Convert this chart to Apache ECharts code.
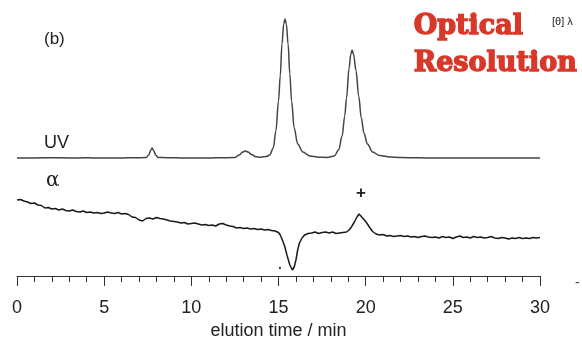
<!DOCTYPE html>
<html>
<head>
<meta charset="utf-8">
<script src="https://cdn.jsdelivr.net/npm/echarts@6/dist/echarts.min.js"></script>
<style>
  html, body { margin: 0; padding: 0; background: #fff; }
  #chart { width: 582px; height: 340px; }
</style>
</head>
<body>
<div id="chart"></div>
<script>
// x axis ticks (elution time, min)
const xTicks = [0, 5, 10, 15, 20, 25, 30];

// UV trace: [time (min), detector signal (arb. units)]
const uvTrace = [
  [0, 118], [1, 118], [2, 118.3], [3, 118], [4, 118.2], [5, 118], [6, 118.1],
  [6.8, 118.2], [7.4, 118.4], [7.55, 121], [7.68, 126], [7.75, 128], [7.85, 125],
  [7.95, 121], [8.1, 118.6], [8.6, 118.3], [9.5, 118], [10.5, 118], [11.5, 118.2],
  [12.5, 118.5], [12.75, 121], [12.95, 124], [13.1, 125], [13.25, 124],
  [13.45, 121.5], [13.7, 119.3], [14.0, 118.8], [14.3, 119.5], [14.5, 121],
  [14.7, 128], [14.85, 145], [15.0, 175], [15.1, 200], [15.2, 232], [15.3, 252],
  [15.37, 257], [15.45, 252], [15.55, 232], [15.65, 202], [15.75, 175],
  [15.9, 148], [16.1, 132], [16.4, 124], [16.8, 120], [17.3, 118.8],
  [17.8, 118.6], [18.2, 120], [18.45, 126], [18.65, 140], [18.8, 160],
  [18.9, 178], [19.05, 208], [19.15, 222], [19.22, 226], [19.3, 222],
  [19.45, 205], [19.6, 180], [19.75, 158], [19.9, 143], [20.1, 132],
  [20.4, 124], [20.8, 120.5], [21.4, 119], [22, 118.5], [23, 118.2],
  [24, 118], [26, 118], [28, 118], [30, 118]
];

// optical rotation (alpha) trace: [time (min), signal (arb. units)]
const alphaTrace = [
  [0.0, 76], [0.2, 76.5], [0.4, 75], [0.6, 74], [0.8, 72.5], [1.0, 73], [1.2, 71],
  [1.4, 70.5], [1.6, 68], [1.8, 68.5], [2.0, 67], [2.2, 67.5], [2.4, 66], [2.6, 67],
  [2.8, 65.5], [3.0, 65], [3.2, 66], [3.4, 64.5], [3.6, 64], [3.8, 65], [4.0, 63.5],
  [4.2, 64], [4.4, 63], [4.6, 63.5], [4.8, 62.5], [5.0, 63], [5.2, 64], [5.4, 63],
  [5.6, 62.5], [5.8, 63.5], [6.0, 62], [6.2, 62.5], [6.4, 61.5], [6.6, 59],
  [6.8, 58.5], [7.0, 56], [7.2, 55], [7.4, 57.5], [7.6, 58], [7.8, 57], [8.0, 58.5],
  [8.2, 57.5], [8.4, 57], [8.6, 56], [8.8, 55], [9.0, 54.5], [9.2, 54], [9.4, 53],
  [9.6, 53.5], [9.8, 52], [10.0, 52.5], [10.2, 53], [10.4, 52], [10.6, 51],
  [10.8, 51.5], [11.0, 50.5], [11.2, 51], [11.4, 50], [11.6, 52], [11.8, 52.5],
  [12.0, 51], [12.2, 50], [12.4, 49.5], [12.6, 48], [12.8, 48.5], [13.0, 47.5],
  [13.2, 48], [13.4, 47], [13.6, 47.5], [13.8, 46.5], [14.0, 47], [14.2, 46],
  [14.4, 46.5], [14.6, 45.5], [14.8, 45], [15.0, 43.5], [15.1, 41], [15.2, 37],
  [15.35, 30], [15.5, 20], [15.65, 11], [15.8, 6], [15.9, 9], [16.0, 16],
  [16.1, 26], [16.2, 33], [16.35, 38], [16.5, 41], [16.7, 42.5], [16.9, 43],
  [17.1, 44], [17.3, 42.5], [17.5, 43.5], [17.7, 44], [17.9, 43], [18.1, 44],
  [18.3, 42.5], [18.5, 43], [18.7, 43.5], [18.9, 44], [19.05, 46], [19.2, 49.5],
  [19.35, 54], [19.5, 59], [19.62, 62], [19.8, 58.5], [20.0, 54.5], [20.1, 52],
  [20.25, 48], [20.4, 44.5], [20.6, 42], [20.8, 41], [21.0, 41.5], [21.2, 40],
  [21.4, 40.5], [21.6, 39.5], [21.8, 40], [22.0, 40.5], [22.2, 39.5], [22.4, 40],
  [22.6, 39], [22.8, 39.5], [23.0, 38.5], [23.2, 39.5], [23.4, 40], [23.6, 39],
  [23.8, 38.5], [24.0, 39], [24.2, 38], [24.4, 39.5], [24.6, 38.5], [24.8, 39],
  [25.0, 37.5], [25.2, 39], [25.4, 40], [25.6, 38.5], [25.8, 39], [26.0, 38],
  [26.2, 39.5], [26.4, 38.5], [26.6, 39], [26.8, 38], [27.0, 38.5], [27.2, 39.5],
  [27.4, 38], [27.6, 37.5], [27.8, 38.5], [28.0, 38], [28.2, 37], [28.4, 38],
  [28.6, 37.5], [28.8, 38.5], [29.0, 37.5], [29.2, 38], [29.4, 37.5], [29.6, 38.5],
  [29.8, 38], [30.0, 38.5]
];

const chart = echarts.init(document.getElementById("chart"), null, { renderer: "canvas" });

const sans = "'Liberation Sans', Arial, Helvetica, sans-serif";
const titleRed = "#d8382a";

chart.setOption({
  animation: false,
  backgroundColor: "#fff",
  grid: { left: 17, right: 42, top: 16, bottom: 64, containLabel: false, outerBoundsMode: "none" },
  xAxis: {
    type: "value",
    min: xTicks[0],
    max: xTicks[xTicks.length - 1],
    interval: xTicks[1] - xTicks[0],
    name: "elution time / min",
    nameLocation: "middle",
    nameGap: 45,
    nameTextStyle: { fontFamily: sans, fontSize: 18, color: "#222" },
    axisLine: { lineStyle: { color: "#333", width: 1 } },
    axisTick: { show: true, length: 10, lineStyle: { color: "#333", width: 1 } },
    minorTick: { show: true, splitNumber: 5, length: 6, lineStyle: { color: "#333", width: 1 } },
    axisLabel: { margin: 23, fontFamily: sans, fontSize: 18, color: "#222" },
    splitLine: { show: false },
  },
  yAxis: {
    type: "value",
    min: 0,
    max: 260,
    show: false,
  },
  series: [
    {
      name: "UV",
      type: "line",
      data: uvTrace,
      showSymbol: false,
      smooth: 0.35,
      smoothMonotone: "x",
      lineStyle: { color: "#444", width: 1.5 },
    },
    {
      name: "alpha",
      type: "line",
      data: alphaTrace,
      showSymbol: false,
      lineStyle: { color: "#1a1a1a", width: 1.5 },
    },
  ],
  graphic: [
    { type: "text", left: 44, top: 31, style: { text: "(b)", font: "17px " + sans, fill: "#222" } },
    { type: "text", left: 44, top: 134, style: { text: "UV", font: "18px " + sans, fill: "#222" } },
    { type: "text", left: 46, top: 171, style: { text: "α", font: "20px 'DejaVu Serif', serif", fill: "#222" } },
    { type: "text", left: 356, top: 185, style: { text: "+", font: "bold 17px " + sans, fill: "#222" } },
    { type: "text", left: 278, top: 258, style: { text: ".", font: "bold 14px " + sans, fill: "#444" } },
    { type: "text", left: 575, top: 276, style: { text: "-", font: "14px " + sans, fill: "#444" } },
    { type: "text", left: 413, top: 13, style: { text: "Optical", font: "bold 27px 'DejaVu Serif', serif", fill: titleRed, stroke: titleRed, lineWidth: 1.4 } },
    { type: "text", left: 413, top: 50, style: { text: "Resolution", font: "bold 27px 'DejaVu Serif', serif", fill: titleRed, stroke: titleRed, lineWidth: 1.4 } },
    { type: "text", left: 552, top: 16, style: { text: "[θ] λ", font: "11px " + sans, fill: "#222" } },
  ],
});
</script>
</body>
</html>
